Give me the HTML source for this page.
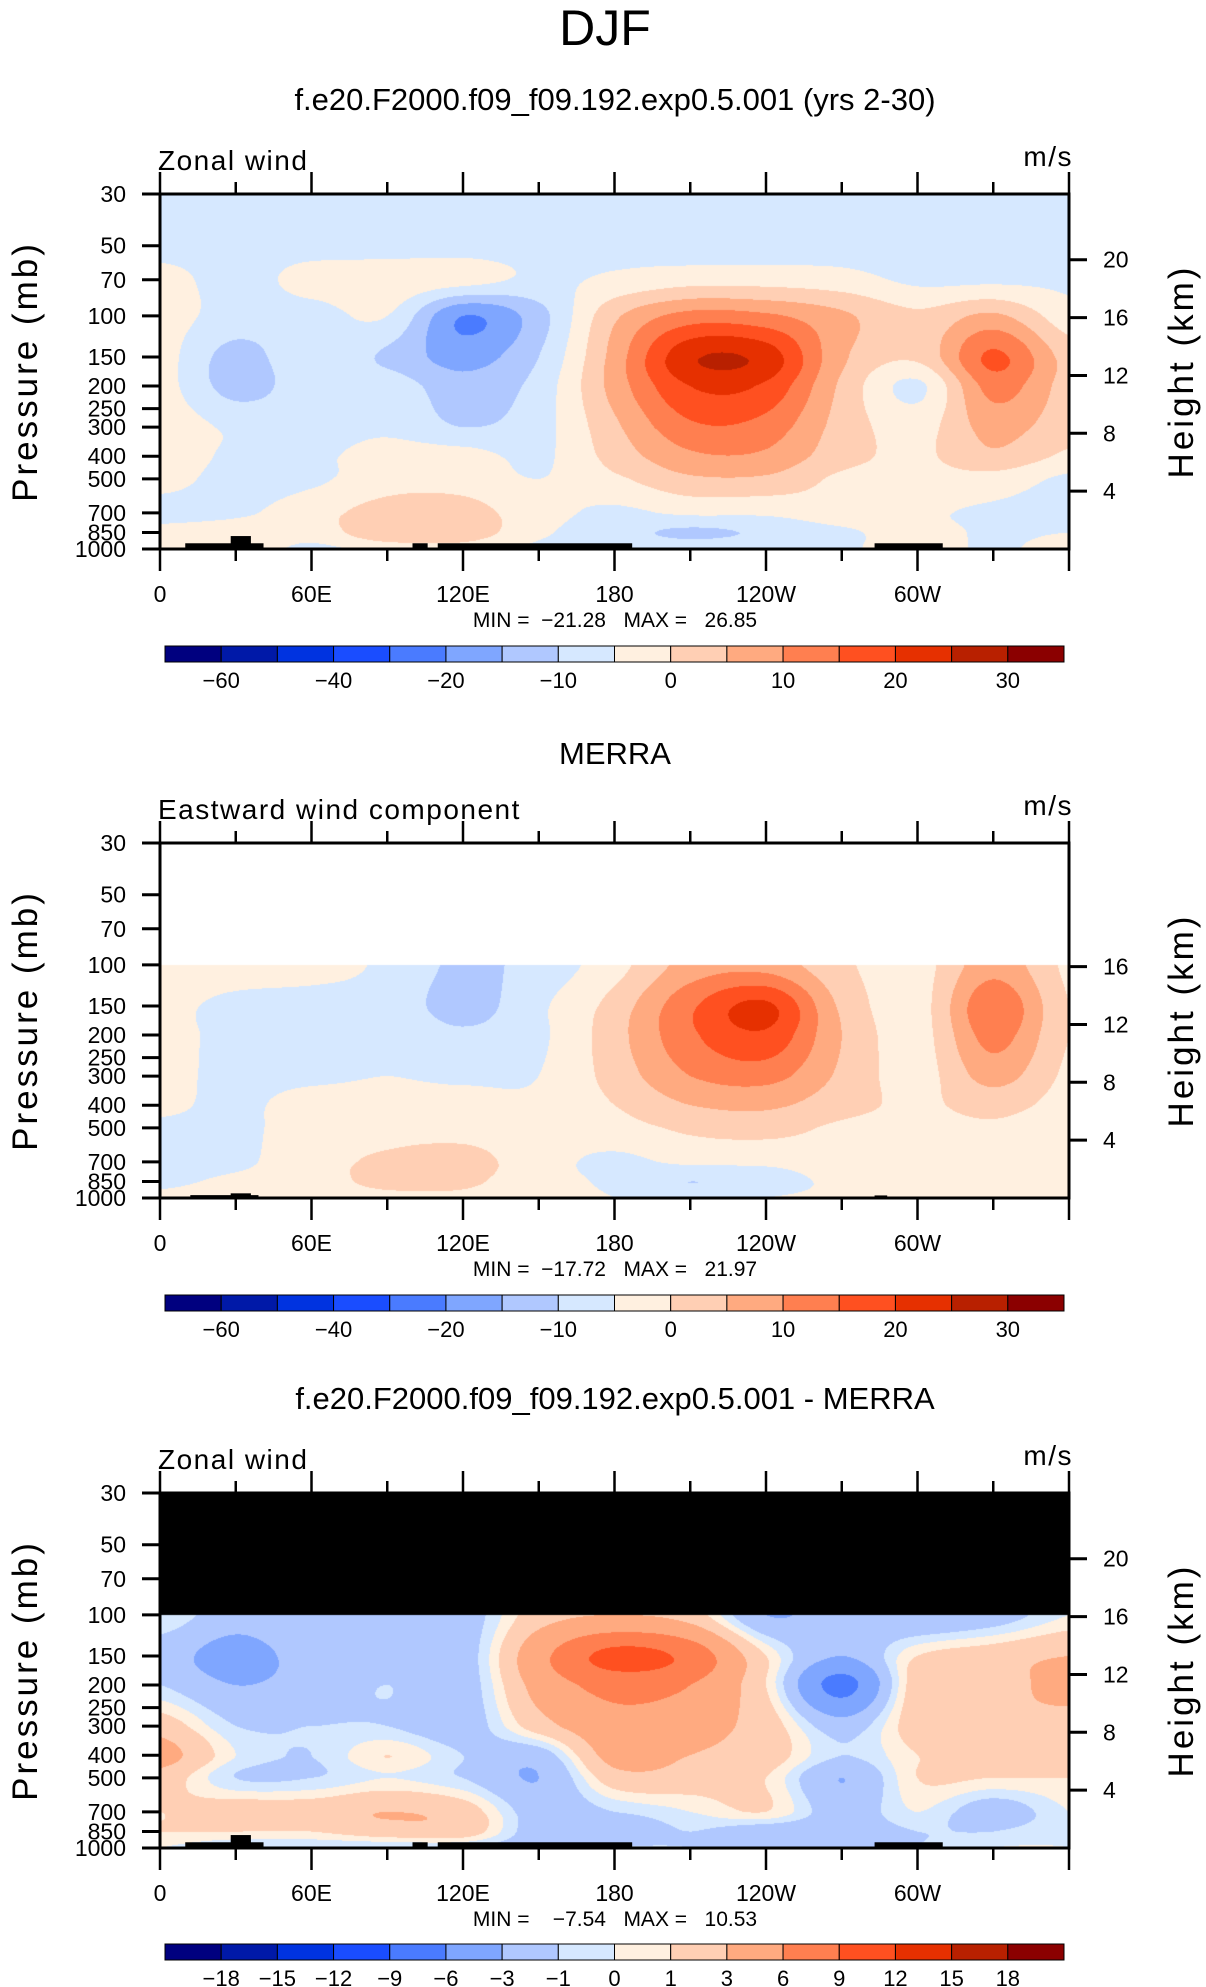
<!DOCTYPE html>
<html><head><meta charset="utf-8">
<style>
body{margin:0;background:#fff;width:1206px;height:1987px;overflow:hidden;font-family:"Liberation Sans",sans-serif;}
#root{position:relative;width:1206px;height:1987px;}
</style></head>
<body>
<div id="root">
<svg id="svg" width="1206" height="1987" style="position:absolute;left:0;top:0"></svg>
</div>
<script>
const lons=[0,30,60,90,120,150,180,210,240,270,300,330,360];
const levels=[30,50,70,100,150,200,300,400,500,700,850,1000];
const p1Values=[
[-7,-7,-7,-7,-7,-7,-7,-7,-7,-7,-7,-7,-7],
[-7,-7,-7,-7,-7,-7,-6,-7,-7,-7,-7,-7,-7],
[-3,-7,-3,-2,-3,-6,-4,-2,-2,-3,-6,-6,-6],
[-3,-7,-7,-5,-20,-12,4,12,11,6,1,6,-3],
[-3,-12,-6,-11,-17,-10,7,24,23,6,1,16,3],
[-3,-12,-7,-7,-13,-8,7,20,19,4,-6,12,3],
[-2,-6,-7,-6,-10,-7,4,14,13,3,-2,7,2],
[-2,-6,-6,-3,-3,-6,2,9,9,2,-1,4,-1],
[-3,-7,-6,-2,-2,-5,-1,4,4,-1,-2,-2,-6],
[-7,-6,-2,2,2,-3,-6,-4,-4,-2,-4,-6,-7],
[-3,-2,-3,4,3,-4,-8,-11,-9,-6,-3,-6,-5],
[-2,-2,-6,-3,-2,-6,-6,-7,-6,-6,-2,-6,-2]];
const p2Values=[
null,null,null,
[-3,-3,-3,-6,-11,-8,-2,7,8,1,-2,8,-1],
[-4,-6,-7,-7,-12,-6,2,14,21,4,-2,14,0],
[-4,-6,-7,-6,-9,-6,3,14,19,5,-2,12,0],
[-4,-6,-6,-5,-6,-5,2,10,12,4,-2,7,-1],
[-4,-6,-3,-3,-3,-4,0,5,6,2,-1,2,-2],
[-6,-6,-3,-2,-2,-3,-2,1,2,-1,-2,-1,-3],
[-7,-6,-2,1,2,-3,-6,-4,-4,-3,-4,-3,-3],
[-6,-4,-3,2,1,-3,-6,-10,-7,-4,-3,-3,-4],
[-4,-3,-4,-2,-1,-3,-5,-6,-5,-4,-2,-2,-3]];
const p3Values=[
null,null,null,
[0,-2,-1,-2,-2,2,3,2,-3,-2,-3,-2,0],
[-2,-4,-2,-2,-2,5,10,8,1,-3,1,2,3],
[-1,-3,-2,-1,-2,4,7,6,1,-7,2,2,4],
[2,-1,-1,-1,-2,2,5,4,2,-2,2,3,2],
[4,0,-1,1,-1,-2,4,3,2,-1,1,2,2],
[2,-1,-1,0,-1,-3,2,2,1,-3,1,1,1],
[1,2,2,3,2,-2,-1,0,1,-2,0,-2,0],
[1,1,1,2,2,-2,-2,-1,-2,-2,-1,-1,0],
[0,-1,-1,-1,-1,-2,-1,-1,-1,-1,-1,0,0]];
const levels1=[-60,-50,-40,-30,-20,-15,-10,-5,0,5,10,15,20,25,30];
const levels3=[-18,-15,-12,-9,-6,-3,-1,0,1,3,6,9,12,15,18];
const barLabels1=["−60","−40","−20","−10","0","10","20","30"];
const barLabelIdx1=[0,2,4,6,8,10,12,14];
const barLabels3=["−18","−15","−12","−9","−6","−3","−1","0","1","3","6","9","12","15","18"];
const barLabelIdx3=[0,1,2,3,4,5,6,7,8,9,10,11,12,13,14];
const colors=["#00007f","#0019a8","#0033e0","#1a4dff","#4a7bff","#7fa6ff","#b0c8ff","#d6e8ff","#fff0e0","#ffcfb4","#ffaa80","#ff7f50","#ff5020","#e63000","#b82000","#8b0000"];
const pTicks=[30,50,70,100,150,200,250,300,400,500,700,850,1000];
const kmTicks=[4,8,12,16,20];
const lonTicks=[0,30,60,90,120,150,180,210,240,270,300,330,360];
const lonLabels=["0","","60E","","120E","","180","","120W","","60W","",""];
const topo1Start=[10,28,100,110,283];
const topo1End=[41,36,106,187,310];
const topo1Top=[945,880,945,945,945];
const topo2Start=[12,28,283];
const topo2End=[39,36,288];
const topo2Top=[972,955,975];
const minmax1="MIN =  −21.28   MAX =   26.85";
const minmax2="MIN =  −17.72   MAX =   21.97";
const minmax3="MIN =    −7.54   MAX =   10.53";

const NS="http://www.w3.org/2000/svg";
const svg=document.getElementById('svg');
const PL=160,PW=909,PH=355;
function mk(tag,attrs,parent){const e=document.createElementNS(NS,tag);for(const k in attrs)e.setAttribute(k,attrs[k]);(parent||svg).appendChild(e);return e;}
function xOf(lon){return PL+lon/360*PW;}
function yOf(p,top){return top+(Math.log(p)-Math.log(30))/(Math.log(1000)-Math.log(30))*PH;}
function cr(p0,p1,p2,p3,t){return 0.5*((2*p1)+(-p0+p2)*t+(2*p0-5*p1+4*p2-p3)*t*t+(-p0+3*p1-3*p2+p3)*t*t*t);}
function fracLev(p){const lp=Math.log(p);for(let i=0;i<levels.length-1;i++){const a=Math.log(levels[i]),b=Math.log(levels[i+1]);if(lp<=b)return i+(lp-a)/(b-a);}return levels.length-1;}
function sample(vals,fi,fj){
  const i=Math.floor(fi),j=Math.floor(fj),ti=fi-i,tj=fj-j;
  const nr=levels.length,nc=lons.length;
  function g(r,c){r=Math.max(0,Math.min(nr-1,r));while(!vals[r])r++;c=Math.max(0,Math.min(nc-1,c));return vals[r][c];}
  const rows=[];for(let a=-1;a<=2;a++){rows.push(cr(g(i+a,j-1),g(i+a,j),g(i+a,j+1),g(i+a,j+2),tj));}
  return cr(rows[0],rows[1],rows[2],rows[3],ti);
}
function drawPanel(cfg){
  const top=cfg.top;
  const fo=mk('foreignObject',{x:PL,y:top,width:PW,height:PH});
  
  
  const cv=document.createElement('canvas');cv.width=PW;cv.height=PH;cv.style.display='block';
  fo.appendChild(cv);
  const ctx=cv.getContext('2d');const img=ctx.createImageData(PW,PH);
  const rgb=colors.map(c=>[parseInt(c.substr(1,2),16),parseInt(c.substr(3,2),16),parseInt(c.substr(5,2),16)]);
  const firstRow=cfg.vals.findIndex(r=>r);
  for(let y=0;y<PH;y++){
    const p=Math.exp(Math.log(30)+(y+0.5)/PH*(Math.log(1000)-Math.log(30)));
    const fi=fracLev(p);
    for(let x=0;x<PW;x++){
      let c;
      if(fi<firstRow){c=cfg.blank;}
      else{const fj=(x+0.5)/PW*(lons.length-1);const v=sample(cfg.vals,fi,fj);let k=0;for(const b of cfg.lev)if(v>=b)k++;c=rgb[k];}
      const o=(y*PW+x)*4;img.data[o]=c[0];img.data[o+1]=c[1];img.data[o+2]=c[2];img.data[o+3]=255;
    }
  }
  ctx.putImageData(img,0,0);
  for(let i=0;i<cfg.ts.length;i++){
    const r=mk('rect',{x:xOf(cfg.ts[i]),y:yOf(cfg.tt[i],top),width:xOf(cfg.te[i])-xOf(cfg.ts[i]),height:yOf(1000,top)-yOf(cfg.tt[i],top),fill:'#000'});
    
    
  }
  const fr=mk('rect',{x:PL,y:top,width:PW,height:PH,fill:'none',stroke:'#000','stroke-width':3});
  
  
  pTicks.forEach(p=>{const y=yOf(p,top);
    mk('line',{x1:PL-18,x2:PL,y1:y,y2:y,stroke:'#000','stroke-width':3});
    const t=mk('text',{x:PL-34,y:y+8,'text-anchor':'end','font-size':23,fill:'#000'});t.textContent=p;
    
    
  });
  cfg.km.forEach(z=>{const p=1000*Math.exp(-z/7);const y=yOf(p,top);
    mk('line',{x1:PL+PW,x2:PL+PW+18,y1:y,y2:y,stroke:'#000','stroke-width':3});
    const t=mk('text',{x:PL+PW+34,y:y+8,'font-size':23,fill:'#000'});t.textContent=z;
    
    
  });
  lonTicks.forEach((l,i)=>{const x=xOf(l);const L=(i%2==0)?22:12;
    mk('line',{x1:x,x2:x,y1:top,y2:top-L,stroke:'#000','stroke-width':2.5});
    mk('line',{x1:x,x2:x,y1:top+PH,y2:top+PH+L,stroke:'#000','stroke-width':2.5});
    if(lonLabels[i]){const t=mk('text',{x:x,y:top+PH+53,'text-anchor':'middle','font-size':23});t.textContent=lonLabels[i];
      
      }
  });
  let t=mk('text',{x:615,y:cfg.titleY+11,'text-anchor':'middle','font-size':31});t.textContent=cfg.title;
  
  
  t=mk('text',{x:PL-2,y:top-24,'font-size':28,'letter-spacing':'1.5'});t.textContent=cfg.left;
  
  
  t=mk('text',{x:1073,y:top-28,'text-anchor':'end','font-size':28,'letter-spacing':'1.5'});t.textContent='m/s';
  
  
  t=mk('text',{x:0,y:0,'text-anchor':'middle','font-size':35,'letter-spacing':'3',transform:`translate(37,${top+PH/2}) rotate(-90)`});t.textContent='Pressure (mb)';
  
  
  t=mk('text',{x:0,y:0,'text-anchor':'middle','font-size':35,'letter-spacing':'3',transform:`translate(1193,${top+PH/2}) rotate(-90)`});t.textContent='Height (km)';
  
  
  t=mk('text',{x:615,y:top+PH+78,'text-anchor':'middle','font-size':21});t.textContent=cfg.mm;
  t.style.whiteSpace='pre';
  
  
  const by=cfg.barY,bx=165,bw=899/16;
  colors.forEach((c,i)=>{const r=mk('rect',{x:bx+i*bw,y:by,width:bw,height:16,fill:c,stroke:'#000','stroke-width':1});
    
    });
  cfg.bl.forEach((lab,k)=>{const x=bx+(cfg.bi[k]+1)*bw;const tt=mk('text',{x:x,y:by+42,'text-anchor':'middle','font-size':22});tt.textContent=lab;
    
    });
}
const dj=mk('text',{x:605,y:45,'text-anchor':'middle','font-size':50,'font-weight':'300'});dj.textContent='DJF';


drawPanel({name:'model',top:194,vals:p1Values,lev:levels1,blank:[255,255,255],km:kmTicks,title:'f.e20.F2000.f09_f09.192.exp0.5.001 (yrs 2-30)',titleY:99,left:'Zonal wind',mm:minmax1,barY:646,bl:barLabels1,bi:barLabelIdx1,ts:topo1Start,te:topo1End,tt:topo1Top});
drawPanel({name:'merra',top:843,vals:p2Values,lev:levels1,blank:[255,255,255],km:kmTicks.slice(0,4),title:'MERRA',titleY:753,left:'Eastward wind component',mm:minmax2,barY:1295,bl:barLabels1,bi:barLabelIdx1,ts:topo2Start,te:topo2End,tt:topo2Top});
drawPanel({name:'difference',top:1493,vals:p3Values,lev:levels3,blank:[0,0,0],km:kmTicks,title:'f.e20.F2000.f09_f09.192.exp0.5.001 - MERRA',titleY:1398,left:'Zonal wind',mm:minmax3,barY:1944,bl:barLabels3,bi:barLabelIdx3,ts:topo1Start,te:topo1End,tt:topo1Top});
</script>
</body></html>
